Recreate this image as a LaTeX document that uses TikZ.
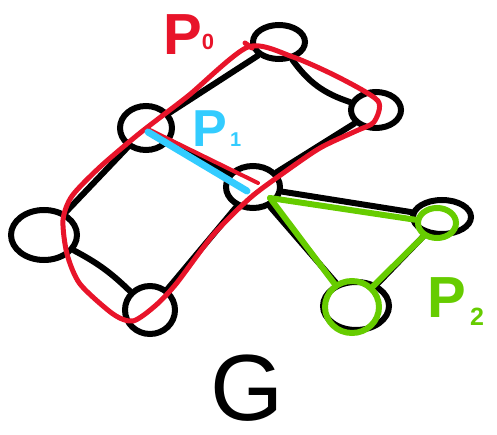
\documentclass[tikz,border=0pt]{standalone}
\usepackage{fontspec}
\setmainfont{Liberation Sans}
\usetikzlibrary{shapes.geometric}
\definecolor{pred}{RGB}{232,20,42}
\definecolor{pblue}{RGB}{51,204,255}
\definecolor{pgreen}{RGB}{102,204,0}
\begin{document}
\begin{tikzpicture}[x=1pt,y=-1pt,
  vert/.style={ellipse,draw=black,line width=6pt,inner sep=0pt},
  gedge/.style={black,line width=6pt,line cap=round},
  redpath/.style={pred,line width=5pt,line cap=round,line join=round},
  bluepath/.style={pblue,line width=7pt,line cap=round},
  greenpath/.style={pgreen,line width=6pt,line cap=round,line join=round},
  greenvert/.style={ellipse,draw=pgreen,line width=6pt,inner sep=0pt},
  lbl/.style={anchor=base west,inner sep=0pt,font=\bfseries}]
\useasboundingbox (0,0) rectangle (497,435);
% graph vertices
\node[vert,minimum width=52pt,minimum height=34pt] (top) at (279,42) {};
\node[vert,minimum width=50pt,minimum height=36pt] (ru) at (376,110) {};
\node[vert,minimum width=52pt,minimum height=44pt] (lu) at (146,128) {};
\node[vert,minimum width=54pt,minimum height=42pt] (c) at (253,187) {};
\node[vert,minimum width=66pt,minimum height=50pt] (l) at (44,235) {};
\node[vert,minimum width=50pt,minimum height=48pt] (ll) at (150,310) {};
\node[vert,minimum width=58pt,minimum height=34pt] (r) at (442,217) {};
\node[vert,minimum width=66pt,minimum height=48pt] (br) at (356,306) {};
% graph edges
\draw[gedge] (top) -- (lu);
\draw[gedge] (top) to[bend right=18] (ru);
\draw[gedge] (lu) -- (l);
\draw[gedge] (l) to[bend left=8] (ll);
\draw[gedge] (ll) -- (c);
\draw[gedge] (c) -- (ru);
\draw[gedge] (lu) -- (c);
\draw[gedge] (c) -- (r);
\draw[gedge] (c) -- (br);
\draw[gedge] (r) -- (br);
% P0 (red)
\draw[redpath] plot[smooth cycle,tension=0.45] coordinates {
  (248,47) (293,57) (340,78) (378,101) (374,122) (356,131) (320,148)
  (282,174) (250,198) (213,235) (176,284) (155,306) (133,321) (113,314)
  (80,284) (67,254) (63,220) (72,196) (100,167) (140,133) (188,96)};
\coordinate (rt1) at (245,43);
\coordinate (rt2) at (252,48);
\draw[redpath] (rt1) -- (rt2);
\coordinate (rs) at (150,130);
\coordinate (re) at (258,183);
\draw[redpath,line width=4pt] (rs) -- (re);
% P1 (blue)
\coordinate (bs) at (148,132);
\coordinate (be) at (247,191);
\draw[bluepath] (bs) -- (be);
% P2 (green)
\node[greenvert,minimum width=54pt,minimum height=52pt] (gbr) at (352,307) {};
\node[greenvert,minimum width=38pt,minimum height=30pt] (gr) at (437,223) {};
\coordinate (gc) at (270,198);
\draw[greenpath] (gc) -- (gr);
\draw[greenpath] (gc) -- (gbr);
\draw[greenpath] (gr) -- (gbr);
% labels
\node[lbl,text=pred] (p0) at (163,55) {\fontsize{58}{58}\selectfont P\raisebox{5pt}{\fontsize{22}{22}\selectfont 0}};
\node[lbl,text=pblue] (p1) at (192,147) {\fontsize{52}{52}\selectfont P\fontsize{20}{20}\selectfont\,1};
\node[lbl,text=pgreen] (p2) at (427,317) {\fontsize{58}{58}\selectfont P\raisebox{-8pt}{\fontsize{25}{25}\selectfont\,2}};
\node[anchor=base west,inner sep=0pt,text depth=0pt] (g) at (210,420) {\fontsize{94}{94}\selectfont G};
\end{tikzpicture}
\end{document}
